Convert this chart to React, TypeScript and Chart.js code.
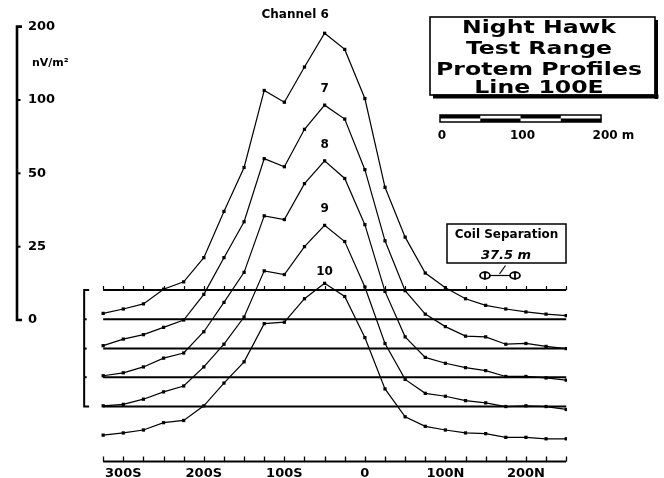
import React, { useEffect, useRef } from 'react';
import { Chart, registerables } from 'chart.js';

Chart.register(...registerables);

// Stations along Line 100E (metres, negative = south)
const stations = [-325, -300, -275, -250, -225, -200, -175, -150, -125, -100, -75, -50, -25, 0, 25, 50, 75, 100, 125, 150, 175, 200, 225, 250];

// Profile heights per channel, in plotting units of the stacked display (0 = "0", 100 = "25", 200 = "50", 300 = "100", 400 = "200")
const ch6 = [9, 15, 22, 42, 52, 85, 148, 208, 313, 297, 345, 391, 369, 302, 181, 113, 64, 44, 29, 20, 15, 11, 8, 6];
const ch7 = [-35, -26, -20, -10, 0, 35, 85, 134, 220, 209, 260, 293, 274, 205, 108, 40, 8, -9, -22, -23, -33, -32, -36, -39];
const ch8 = [-76, -72, -64, -52, -45, -16, 24, 65, 142, 137, 186, 217, 193, 130, 39, -23, -51, -59, -65, -69, -77, -77, -79, -82];
const ch9 = [-117, -115, -108, -98, -90, -64, -33, 4, 67, 62, 100, 129, 107, 45, -32, -81, -100, -104, -110, -113, -118, -117, -118, -122];
const ch10 = [-157, -154, -150, -140, -137, -117, -86, -57, -5, -3, 29, 50, 32, -24, -94, -132, -145, -150, -154, -155, -160, -160, -162, -162];

const channelSeries = [ch6, ch7, ch8, ch9, ch10];
const channelLabels = ['Channel 6', '7', '8', '9', '10'];

// Horizontal reference lines of the stacked profiles
const baselines = [41, 1, -39, -78, -118];

const xTickValues = [-300, -200, -100, 0, 100, 200];
const xTickLabels = ['300S', '200S', '100S', '0', '100N', '200N'];
const yTickValues = [0, 100, 200, 300, 400];
const yTickLabels = ['0', '25', '50', '100', '200'];
const yUnitLabel = 'nV/m²';

const titleLines = ['Night Hawk', 'Test Range', 'Protem Profiles', 'Line 100E'];
const scaleBarMetres = [0, 100, 200];
const scaleBarLabels = ['0', '100', '200 m'];
const coilTitle = 'Coil Separation';
const coilValue = '37.5 m';

const FONT = '"DejaVu Sans", "Liberation Sans", sans-serif';

const decorPlugin = {
  id: 'decor',
  afterDraw(chart: any) {
    const { ctx, chartArea } = chart;
    const xs = chart.scales.x;
    const ys = chart.scales.y;
    const px = (v: number) => xs.getPixelForValue(v);
    const py = (v: number) => ys.getPixelForValue(v);
    ctx.save();
    ctx.strokeStyle = '#000';
    ctx.fillStyle = '#000';
    ctx.lineCap = 'butt';

    // Left value axis
    const axX = chartArea.left;
    const yTop = py(yTickValues[yTickValues.length - 1]);
    const yBot = py(yTickValues[0]);
    ctx.lineWidth = 2.6;
    ctx.beginPath();
    ctx.moveTo(axX + 5, yTop);
    ctx.lineTo(axX, yTop);
    ctx.lineTo(axX, yBot);
    ctx.lineTo(axX + 5, yBot);
    ctx.stroke();
    ctx.lineWidth = 2;
    for (let i = 1; i < yTickValues.length - 1; i++) {
      const y = py(yTickValues[i]);
      ctx.beginPath();
      ctx.moveTo(axX, y);
      ctx.lineTo(axX + 3.5, y);
      ctx.stroke();
    }

    // unit label
    ctx.font = `bold 11px ${FONT}`;
    ctx.textAlign = 'left';
    ctx.textBaseline = 'alphabetic';
    ctx.fillText(yUnitLabel, axX + 15, 66);

    // Bracket grouping the reference lines
    const bx = px(stations[0]) - 19;
    const b0 = py(baselines[0]);
    const b1 = py(baselines[baselines.length - 1]);
    ctx.lineWidth = 2;
    ctx.beginPath();
    ctx.moveTo(bx + 5, b0);
    ctx.lineTo(bx, b0);
    ctx.lineTo(bx, b1);
    ctx.lineTo(bx + 5, b1);
    ctx.stroke();
    for (let i = 1; i < baselines.length - 1; i++) {
      ctx.fillRect(bx, py(baselines[i]) - 1, 2.5, 2);
    }

    // Ticks on the upper reference line
    ctx.lineWidth = 1.2;
    const tl = py(baselines[0]);
    for (const s of stations) {
      const x = Math.round(px(s)) + 0.5;
      ctx.beginPath();
      ctx.moveTo(x, tl);
      ctx.lineTo(x, tl - 4);
      ctx.stroke();
    }

    // Bottom distance axis
    const by = chartArea.bottom - 1.5;
    ctx.lineWidth = 2;
    ctx.beginPath();
    ctx.moveTo(px(stations[0]), by);
    ctx.lineTo(px(stations[stations.length - 1]), by);
    ctx.stroke();
    ctx.lineWidth = 1.3;
    for (const s of stations) {
      const x = Math.round(px(s)) + 0.5;
      ctx.beginPath();
      ctx.moveTo(x, by);
      ctx.lineTo(x, by - 5);
      ctx.stroke();
    }

    // Channel labels above each peak
    const labelOffsets = [18, 16, 16, 17, 11];
    ctx.font = `bold 12px ${FONT}`;
    ctx.textBaseline = 'middle';
    channelSeries.forEach((ser, k) => {
      let mi = 0;
      ser.forEach((v, i) => { if (v > ser[mi]) mi = i; });
      const x = px(stations[mi]);
      const y = py(ser[mi]) - labelOffsets[k];
      const label = channelLabels[k];
      const last = label.split(' ').pop() as string;
      const w = ctx.measureText(last).width;
      ctx.textAlign = 'right';
      ctx.fillText(label, x + w / 2, y);
    });

    // Title box with drop shadow
    const tx0 = 430, ty0 = 17, tx1 = 655, ty1 = 95;
    ctx.lineWidth = 1.6;
    ctx.strokeRect(tx0, ty0, tx1 - tx0, ty1 - ty0);
    ctx.fillRect(tx1 - 0.5, ty0 + 3, 3.5, ty1 - ty0 + 1);
    ctx.fillRect(tx0 + 3, ty1 - 0.5, tx1 - tx0 + 0.5, 4);
    ctx.font = `bold 18px ${FONT}`;
    ctx.textAlign = 'center';
    ctx.textBaseline = 'alphabetic';
    const baseY = [32.5, 54, 75, 92.5];
    titleLines.forEach((line, i) => {
      ctx.save();
      ctx.translate(539, baseY[i]);
      ctx.scale(1.31, 1);
      ctx.fillText(line, 0, 0);
      ctx.restore();
    });

    // Scale bar (length taken from the distance axis)
    const sx0 = 440;
    const unit = (px(100) - px(0)) / 100;
    const sy0 = 115, sh = 7;
    const sLen = (scaleBarMetres[scaleBarMetres.length - 1] - scaleBarMetres[0]) * unit;
    ctx.lineWidth = 1.5;
    ctx.strokeRect(sx0, sy0, sLen, sh);
    for (let m = 0; m < 200; m += 50) {
      const xa = sx0 + m * unit;
      const top = (m / 50) % 2 === 0;
      ctx.fillRect(xa, top ? sy0 : sy0 + sh / 2, 50 * unit, sh / 2);
    }
    ctx.font = `bold 12px ${FONT}`;
    ctx.textBaseline = 'alphabetic';
    scaleBarMetres.forEach((m, i) => {
      const x = sx0 + m * unit;
      if (i === scaleBarMetres.length - 1) {
        ctx.textAlign = 'left';
        const w = ctx.measureText('200').width;
        ctx.fillText(scaleBarLabels[i], x - w / 2 + 4, 139);
      } else {
        ctx.textAlign = 'center';
        ctx.fillText(scaleBarLabels[i], x + 2, 139);
      }
    });

    // Coil separation box
    const cx0 = 447, cy0 = 224, cx1 = 566, cy1 = 263;
    ctx.lineWidth = 1.5;
    ctx.strokeRect(cx0, cy0, cx1 - cx0, cy1 - cy0);
    ctx.textAlign = 'center';
    ctx.font = `bold 12px ${FONT}`;
    ctx.fillText(coilTitle, (cx0 + cx1) / 2, 238);
    ctx.font = `italic bold 13px ${FONT}`;
    ctx.fillText(coilValue, 506, 259);
    // coil symbols
    ctx.lineWidth = 1.8;
    const coils = [485, 515];
    const cyc = 275.5;
    for (const c of coils) {
      ctx.beginPath();
      ctx.ellipse(c, cyc, 5, 3.3, 0, 0, Math.PI * 2);
      ctx.stroke();
      ctx.beginPath();
      ctx.moveTo(c, cyc - 4);
      ctx.lineTo(c, cyc + 4);
      ctx.stroke();
    }
    ctx.lineWidth = 1.2;
    ctx.beginPath();
    ctx.moveTo(490, cyc);
    ctx.lineTo(510, cyc);
    ctx.stroke();
    ctx.beginPath();
    ctx.moveTo(505.5, 265.5);
    ctx.lineTo(499.5, 274);
    ctx.stroke();

    ctx.restore();
  },
};

export default function App() {
  const ref = useRef<HTMLCanvasElement>(null);
  useEffect(() => {
    document.body.style.margin = '0';
    const curveSets = channelSeries.map((ser, k) => ({
      label: channelLabels[k],
      data: stations.map((s, i) => ({ x: s, y: ser[i] })),
      borderColor: '#000',
      borderWidth: 1.2,
      pointStyle: 'rect',
      pointRadius: 2.3,
      pointBackgroundColor: '#000',
      pointBorderWidth: 0,
      tension: 0,
      fill: false,
    }));
    const baseSets = baselines.map((b, k) => ({
      label: 'ref' + k,
      data: [
        { x: stations[0], y: b },
        { x: stations[stations.length - 1], y: b },
      ],
      borderColor: '#000',
      borderWidth: 2,
      pointRadius: 0,
      tension: 0,
      fill: false,
    }));
    const chart = new Chart(ref.current as HTMLCanvasElement, {
      type: 'line',
      data: { datasets: [...baseSets, ...curveSets] as any },
      options: {
        animation: false,
        responsive: false,
        devicePixelRatio: 1,
        layout: { padding: { left: 17, right: 97, top: 12, bottom: 0 } },
        plugins: { legend: { display: false }, tooltip: { enabled: false } },
        scales: {
          x: {
            type: 'linear',
            min: -432,
            max: 251,
            position: 'bottom',
            border: { display: false },
            grid: { display: false, drawTicks: false },
            afterBuildTicks: (scale: any) => {
              scale.ticks = xTickValues.map((v) => ({ value: v }));
            },
            afterFit: (scale: any) => {
              scale.height = 15;
              scale.paddingLeft = 0;
              scale.paddingRight = 0;
              scale.paddingTop = 0;
              scale.paddingBottom = 0;
            },
            ticks: {
              autoSkip: false,
              maxRotation: 0,
              padding: 3,
              color: '#000',
              font: { family: FONT, size: 13, weight: 'bold' },
              callback: (_v: any, i: number) => xTickLabels[i],
            },
          },
          y: {
            type: 'linear',
            min: -195,
            max: 420,
            position: 'left',
            border: { display: false },
            grid: { display: false, drawTicks: false },
            afterBuildTicks: (scale: any) => {
              scale.ticks = yTickValues.map((v) => ({ value: v }));
            },
            afterFit: (scale: any) => {
              scale.width = 0;
              scale.paddingLeft = 0;
              scale.paddingRight = 0;
              scale.paddingTop = 0;
              scale.paddingBottom = 0;
            },
            ticks: {
              mirror: true,
              padding: 11,
              color: '#000',
              font: { family: FONT, size: 13, weight: 'bold' },
              callback: (_v: any, i: number) => yTickLabels[i],
            },
          },
        },
      } as any,
      plugins: [decorPlugin],
    });
    return () => chart.destroy();
  }, []);
  return (
    <div style={{ width: 664, height: 478, background: '#fff' }}>
      <canvas ref={ref} width={664} height={478} style={{ display: 'block', width: 664, height: 478 }} />
    </div>
  );
}
